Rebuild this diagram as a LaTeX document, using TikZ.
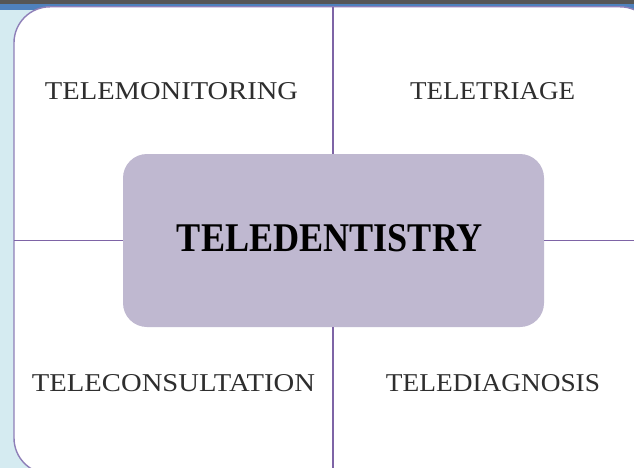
\documentclass[tikz,border=0pt]{standalone}
\usepackage{fontspec}
\setmainfont{Liberation Serif}
\usepackage{graphicx}
\definecolor{paleblue}{HTML}{D5EBF1}
\definecolor{topgray}{HTML}{565656}
\definecolor{bandblue}{HTML}{4F81BD}
\definecolor{framepurple}{HTML}{8E7FB8}
\definecolor{linepurple}{HTML}{7E64A6}
\definecolor{hubfill}{HTML}{BFB8D0}
\definecolor{labelgray}{HTML}{2E2E2E}
% label text stretched to a given width and cap height
\newcommand{\fitlabel}[3]{\resizebox{#1}{#2}{#3}}
\begin{document}
\begin{tikzpicture}[x=1pt,y=-1pt,
  frame/.style={draw=framepurple,line width=1.4pt,fill=white,rounded corners=36pt},
  divider/.style={draw=linepurple,line width=1.1pt},
  hub/.style={fill=hubfill,draw=none,rounded corners=24pt},
  quadlabel/.style={inner sep=0pt,text=labelgray,anchor=center}]
  \useasboundingbox (0,0) rectangle (634,468);
  % window background
  \fill[paleblue] (0,0) rectangle (634,468);
  \fill[bandblue] (0,4.5) rectangle (634,10);
  \fill[topgray] (0,0) rectangle (634,4.5);
  % white panel
  \begin{scope}
    \clip (0,4.5) rectangle (634,468);
    \path[frame] (14,6.8) rectangle (656,474);
  \end{scope}
  % central hub
  \path[hub] (123,154) rectangle (544,327);
  \node (hub) at (333.5,240.5) [minimum width=421pt,minimum height=173pt,inner sep=0pt] {};
  \coordinate (top) at (333,6.8);
  \coordinate (bottom) at (333,468);
  \coordinate (left) at (14,240.5);
  \coordinate (right) at (634,240.5);
  \draw[divider] (hub.north -| top) -- (top);
  \draw[divider] (hub.south -| bottom) -- (bottom);
  \draw[divider] (hub.west |- left) -- (left);
  \draw[divider] (hub.east |- right) -- (right);
  \node[inner sep=0pt] (title) at (330,238.5)
    {\fitlabel{306pt}{27pt}{\bfseries TELEDENTISTRY}};
  % quadrant labels
  \node[quadlabel] (mon) at (171.5,91.5) {\fitlabel{253pt}{17pt}{TELEMONITORING}};
  \node[quadlabel] (tri) at (492.5,91.5) {\fitlabel{165pt}{17pt}{TELETRIAGE}};
  \node[quadlabel] (con) at (173.5,383) {\fitlabel{283pt}{17pt}{TELECONSULTATION}};
  \node[quadlabel] (dia) at (493,383) {\fitlabel{214pt}{17pt}{TELEDIAGNOSIS}};
\end{tikzpicture}
\end{document}
